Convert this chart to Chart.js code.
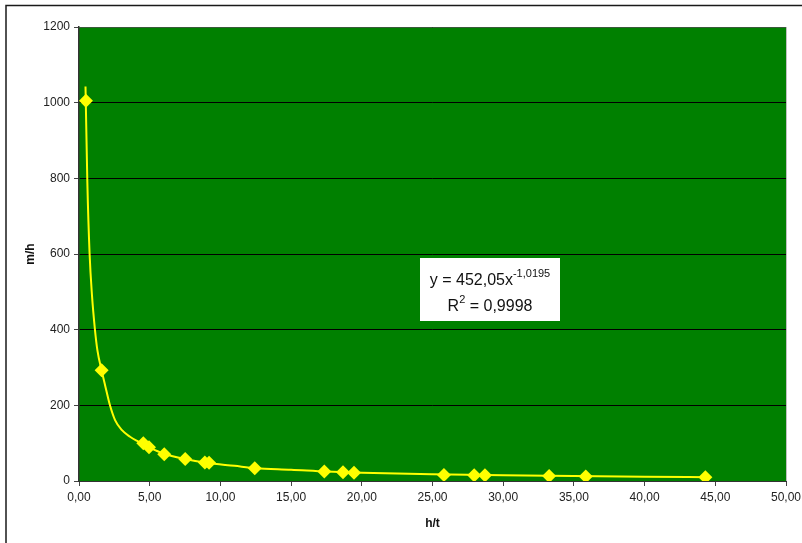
<!DOCTYPE html>
<html>
<head>
<meta charset="utf-8">
<script src="https://cdn.jsdelivr.net/npm/chart.js@4.4.1/dist/chart.umd.min.js"></script>
<style>
  html, body { margin: 0; padding: 0; background: #fff; }
  #wrap { width: 802px; height: 543px; position: relative; }
</style>
</head>
<body>
<div id="wrap"><canvas id="chart" width="802" height="543"></canvas></div>
<script>
// measured points (h/t, m/h)
const htValues = [0.49, 1.60, 4.55, 4.95, 6.03, 7.51, 8.90, 9.20, 12.43, 17.35, 18.67, 19.45, 25.81, 27.95, 28.71, 33.25, 35.84, 44.30];
const mhValues = [1005, 293, 100, 89, 71, 58, 49, 48, 34, 25, 23, 22, 16, 15, 15, 13, 12, 10];

// power trend line
const trendX = [0.46, 0.59, 0.75, 0.92, 1.12, 1.3, 1.6, 1.84, 2.19, 2.55, 3.02, 3.61, 4.2, 5, 6, 7.5, 9, 11, 12.5, 15, 17.5, 20, 25, 30, 35, 40, 44.6];
const trendY = [1043, 790, 600, 490, 403, 346, 292, 254, 200, 161, 135, 117, 104, 88, 72, 58, 48, 40, 34, 30, 25, 22, 18, 15, 13, 11, 10];

const xTicks = [0, 5, 10, 15, 20, 25, 30, 35, 40, 45, 50];
const yTicks = [0, 200, 400, 600, 800, 1000, 1200];

const eqLine1 = 'y = 452,05x';
const eqExp = '-1,0195';
const eqLine2a = 'R';
const eqLine2b = ' = 0,9998';

const FONT = "'Liberation Sans', Arial, sans-serif";

const framePlugin = {
    id: 'frame',
    beforeDraw(chart) {
        const {ctx, chartArea: a} = chart;
        ctx.save();
        ctx.fillStyle = '#008000';
        ctx.fillRect(a.left, a.top, a.right - a.left, a.bottom - a.top);
        // outer frame (top and left only)
        ctx.strokeStyle = '#1a1a1a';
        ctx.lineWidth = 1.5;
        ctx.beginPath();
        ctx.moveTo(6, 543);
        ctx.lineTo(6, 5.5);
        ctx.lineTo(802, 5.5);
        ctx.stroke();
        ctx.restore();
    },
    beforeDatasetsDraw(chart) {
        const {ctx, chartArea: a} = chart;
        ctx.save();
        ctx.strokeStyle = '#c0c0c0';
        ctx.lineWidth = 1;
        ctx.beginPath();
        ctx.moveTo(a.right + 0.5, a.top);
        ctx.lineTo(a.right + 0.5, a.bottom);
        ctx.stroke();
        ctx.strokeStyle = '#3a5a3a';
        ctx.beginPath();
        ctx.moveTo(a.left, a.top + 0.5);
        ctx.lineTo(a.right, a.top + 0.5);
        ctx.stroke();
        ctx.restore();
    },
    afterDatasetsDraw(chart) {
        const {ctx, scales} = chart;
        const left = Math.round(scales.x.getPixelForValue(24.1));
        const top = Math.round(scales.y.getPixelForValue(590));
        const w = 140, h = 63;
        const cx = left + w / 2;
        ctx.save();
        ctx.fillStyle = '#fff';
        ctx.fillRect(left, top, w, h);
        ctx.fillStyle = '#111';
        ctx.textBaseline = 'alphabetic';
        ctx.textAlign = 'left';
        // line 1
        ctx.font = '16px ' + FONT;
        const w1 = ctx.measureText(eqLine1).width;
        ctx.font = '11px ' + FONT;
        const we = ctx.measureText(eqExp).width;
        let x0 = cx - (w1 + we) / 2;
        ctx.font = '16px ' + FONT;
        ctx.fillText(eqLine1, x0, top + 27);
        ctx.font = '11px ' + FONT;
        ctx.fillText(eqExp, x0 + w1, top + 19);
        // line 2
        ctx.font = '16px ' + FONT;
        const wa = ctx.measureText(eqLine2a).width;
        const wb = ctx.measureText(eqLine2b).width;
        ctx.font = '11px ' + FONT;
        const ws = ctx.measureText('2').width;
        x0 = cx - (wa + ws + wb) / 2;
        ctx.font = '16px ' + FONT;
        ctx.fillText(eqLine2a, x0, top + 53);
        ctx.font = '11px ' + FONT;
        ctx.fillText('2', x0 + wa, top + 45);
        ctx.font = '16px ' + FONT;
        ctx.fillText(eqLine2b, x0 + wa + ws, top + 53);
        ctx.restore();
    }
};

const ctx = document.getElementById('chart').getContext('2d');
new Chart(ctx, {
    type: 'scatter',
    data: {
        datasets: [
            {
                label: 'Trend',
                data: trendX.map((x, i) => ({x: x, y: trendY[i]})),
                showLine: true,
                borderColor: '#ffff00',
                borderWidth: 2,
                pointRadius: 0,
                cubicInterpolationMode: 'monotone',
                order: 2
            },
            {
                label: 'm/h',
                data: htValues.map((x, i) => ({x: x, y: mhValues[i]})),
                showLine: false,
                pointStyle: 'rectRot',
                pointRadius: 7,
                backgroundColor: '#ffff00',
                borderColor: '#ffff00',
                borderWidth: 0,
                order: 1
            }
        ]
    },
    options: {
        responsive: false,
        animation: false,
        layout: { padding: { top: 27, right: 16, left: 0, bottom: 0 } },
        plugins: {
            legend: { display: false },
            tooltip: { enabled: false }
        },
        scales: {
            x: {
                type: 'linear',
                min: 0,
                max: 50,
                afterBuildTicks: s => { s.ticks = xTicks.map(v => ({value: v})); },
                afterFit: s => { s.height = 62; s.paddingLeft = 0; s.paddingRight = 0; },
                grid: { drawOnChartArea: false, tickLength: 5, tickColor: '#444' },
                border: { color: '#333', width: 1 },
                ticks: {
                    padding: 4,
                    color: '#222',
                    font: { family: FONT, size: 12 },
                    maxRotation: 0,
                    callback: v => v.toFixed(2).replace('.', ',')
                },
                title: {
                    display: true,
                    text: 'h/t',
                    color: '#111',
                    font: { family: FONT, size: 12, weight: 'bold' },
                    padding: { top: 0, bottom: 12 }
                }
            },
            y: {
                type: 'linear',
                min: 0,
                max: 1200,
                afterBuildTicks: s => { s.ticks = yTicks.map(v => ({value: v})); },
                afterFit: s => { s.width = 79; s.paddingTop = 0; s.paddingBottom = 0; },
                grid: { color: '#000', lineWidth: 1, tickLength: 5, tickColor: '#444' },
                border: { color: '#333', width: 1.5 },
                ticks: {
                    padding: 4,
                    color: '#222',
                    font: { family: FONT, size: 12 },
                    callback: v => String(v)
                },
                title: {
                    display: true,
                    text: 'm/h',
                    color: '#111',
                    font: { family: FONT, size: 12, weight: 'bold' },
                    padding: { top: 23, bottom: 0 }
                }
            }
        }
    },
    plugins: [framePlugin]
});
</script>
</body>
</html>
